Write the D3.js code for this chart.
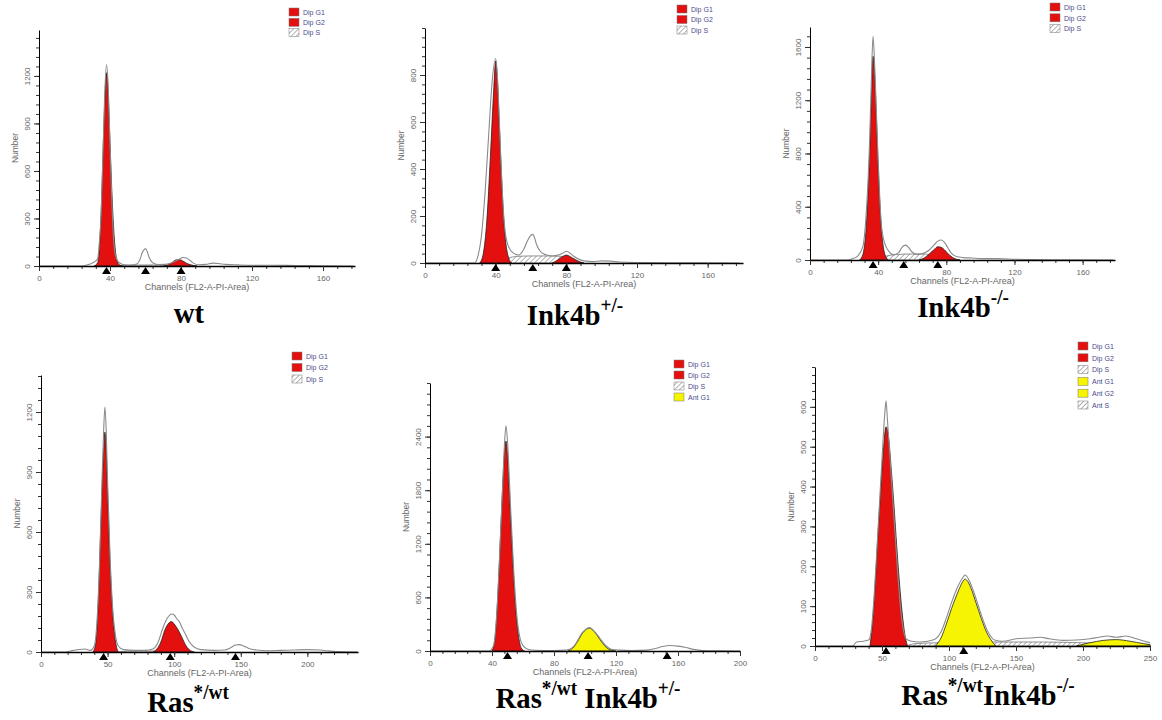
<!DOCTYPE html>
<html>
<head>
<meta charset="utf-8">
<script src="https://cdn.jsdelivr.net/npm/d3@7"></script>
<style>
  body { margin: 0; background: #fff; }
  svg { display: block; }
</style>
</head>
<body>
<div id="chart"></div>
<script>
// ---- data: [channel, count] ----
// wt
const wtRaw = [[0,0],[24,0],[27,6],[30,18],[33,45],[34,150],[35,330],[36,700],[37,1080],[38,1270],[39,1130],[40,760],[41,420],[42,170],[43,70],[45,22],[48,8],[52,6],[55,12],[57,45],[58,80],[59,100],[60,110],[61,90],[62,55],[64,20],[67,9],[71,10],[74,18],[77,32],[79,42],[81,54],[83,50],[85,36],[87,18],[90,8],[94,10],[98,18],[101,16],[105,10],[112,7],[120,5],[132,5],[145,3],[160,2],[177,0]];
const wtG1 = [[31,0],[33,20],[34,110],[35,330],[36,680],[37,1020],[38,1220],[39,1080],[40,780],[41,480],[42,250],[43,100],[44,35],[45,10],[47,0]];
const wtG2 = [[70,0],[73,8],[75,22],[77,38],[79,40],[81,32],[83,18],[86,6],[89,0]];
const wtS = [[44,0],[48,4],[55,6],[65,7],[72,6],[78,3],[84,0]];
const wtMarkers = [38, 60, 80];

// Ink4b+/-
const hetRaw = [[0,0],[28,0],[30,30],[32,120],[34,300],[36,540],[38,770],[40,870],[41,790],[42,620],[43,430],[44,270],[45,160],[47,75],[50,42],[53,34],[56,60],[58,95],[60,118],[61,122],[62,108],[63,82],[65,52],[68,36],[72,30],[76,35],[78,42],[80,50],[82,42],[84,30],[86,20],[90,9],[95,6],[100,9],[105,8],[110,4],[120,2],[150,1],[178,0]];
const hetG1 = [[31,0],[33,40],[35,180],[37,450],[39,750],[40,860],[41,780],[42,600],[43,420],[44,260],[45,140],[46,70],[47,30],[49,0]];
const hetG2 = [[72,0],[75,12],[78,28],[80,34],[82,28],[85,14],[88,3],[90,0]];
const hetS = [[44,0],[47,20],[52,28],[60,30],[70,30],[78,28],[84,18],[88,5],[90,0]];
const hetMarkers = [40, 61, 80];

// Ink4b-/-
const koRaw = [[0,0],[22,0],[25,10],[28,30],[31,100],[33,350],[35,900],[36,1350],[37,1680],[38,1450],[39,1100],[40,750],[41,450],[42,250],[44,120],[46,70],[49,40],[52,55],[54,95],[56,112],[58,92],[60,58],[63,42],[66,48],[70,75],[73,115],[75,142],[77,150],[79,130],[81,90],[83,50],[86,26],[90,18],[95,15],[100,10],[110,10],[120,6],[130,3],[150,2],[178,0]];
const koG1 = [[29,0],[31,40],[33,250],[35,800],[36,1200],[37,1530],[38,1380],[39,1050],[40,700],[41,420],[42,220],[43,100],[44,40],[46,0]];
const koG2 = [[64,0],[67,15],[70,45],[73,80],[75,100],[77,95],[79,75],[82,35],[85,10],[88,0]];
const koS = [[42,0],[45,30],[50,40],[58,45],[65,45],[72,40],[80,25],[86,0]];
const koMarkers = [37, 55, 75];

// Ras*/wt
const rasRaw = [[0,0],[18,0],[22,5],[28,12],[33,15],[37,8],[40,30],[42,150],[44,450],[46,900],[47,1100],[48,1225],[49,1100],[50,850],[52,450],[54,200],[56,80],[58,30],[62,12],[70,8],[78,8],[84,15],[88,50],[91,110],[94,160],[96,180],[98,190],[100,185],[102,165],[104,150],[106,120],[108,95],[111,55],[115,25],[120,12],[130,8],[138,10],[142,20],[146,35],[149,37],[152,30],[156,18],[162,10],[170,6],[180,8],[190,10],[200,12],[210,10],[215,6],[222,2],[238,0]];
const rasG1 = [[39,0],[41,40],[43,250],[45,650],[47,1000],[48,1100],[49,1000],[50,800],[52,420],[54,180],[56,50],[58,0]];
const rasG2 = [[84,0],[87,15],[90,50],[93,110],[96,145],[98,152],[100,140],[103,110],[106,70],[109,30],[112,8],[115,0]];
const rasS = [[58,0],[65,5],[75,6],[85,5],[90,0]];
const rasMarkers = [47, 97, 146];

// Ras*/wt Ink4b+/-
const rasHetRaw = [[0,0],[38,0],[41,60],[43,400],[45,1100],[47,1900],[48,2300],[49,2520],[50,2350],[51,2000],[52,1600],[54,900],[56,400],[58,150],[60,60],[63,20],[68,8],[80,5],[88,10],[92,40],[95,110],[98,200],[101,250],[103,262],[105,240],[108,180],[111,110],[114,50],[117,20],[122,10],[130,5],[140,10],[146,30],[150,50],[155,62],[160,55],[165,40],[170,18],[176,5],[185,2],[200,0]];
const rasHetG1 = [[40,0],[42,150],[44,700],[46,1500],[48,2200],[49,2350],[50,2200],[51,1850],[53,1150],[55,550],[57,180],[59,30],[61,0]];
const rasHetAntG1 = [[89,0],[92,30],[95,100],[98,190],[101,245],[103,255],[105,235],[108,170],[111,95],[114,35],[117,8],[120,0]];
const rasHetMarkers = [50, 102, 153];

// Ras*/wt Ink4b-/-
const rasKoRaw = [[0,0],[28,0],[31,10],[36,12],[40,15],[42,40],[44,120],[46,230],[48,350],[50,470],[52,580],[53,615],[54,570],[56,470],[58,370],[60,270],[62,170],[64,90],[66,40],[68,18],[72,12],[78,10],[84,12],[90,18],[94,35],[98,70],[102,110],[106,145],[110,170],[112,178],[115,165],[118,140],[122,100],[126,60],[130,30],[134,15],[140,12],[150,18],[160,20],[168,22],[175,18],[185,14],[195,15],[205,18],[212,22],[218,25],[225,22],[232,25],[240,18],[246,12],[250,8]];
const rasKoG1 = [[41,0],[43,60],[45,160],[47,280],[49,390],[51,490],[53,550],[55,520],[57,440],[59,350],[61,250],[63,160],[65,85],[67,30],[69,0]];
const rasKoAntG1 = [[90,0],[94,20],[98,55],[102,95],[106,130],[110,160],[112,168],[114,162],[117,140],[120,110],[124,70],[128,35],[132,12],[135,0]];
const rasKoAntG2 = [[195,0],[205,8],[215,14],[225,16],[235,12],[245,6],[250,3]];
const rasKoS = [[68,0],[75,6],[90,8],[140,10],[170,10],[200,8],[230,6],[250,4]];
const rasKoMarkers = [53, 111];

// tick labels
const xTicks180 = [0, 40, 80, 120, 160];
const xTicks200 = [0, 40, 80, 120, 160, 200];
const xTicksRas = [0, 50, 100, 150, 200];
const xTicks250 = [0, 50, 100, 150, 200, 250];
const yTicksWt = [0, 300, 600, 900, 1200];
const yTicksHet = [0, 200, 400, 600, 800];
const yTicksKo = [0, 400, 800, 1200, 1600];
const yTicksRas = [0, 300, 600, 900, 1200];
const yTicksRasHet = [0, 600, 1200, 1800, 2400];
const yTicksRasKo = [0, 100, 200, 300, 400, 500, 600];

// legends
const legendDip = ["Dip G1", "Dip G2", "Dip S"];
const legendDipAnt1 = ["Dip G1", "Dip G2", "Dip S", "Ant G1"];
const legendDipAnt = ["Dip G1", "Dip G2", "Dip S", "Ant G1", "Ant G2", "Ant S"];

// titles: [text, superscript?]
const titleWt = [["wt", false]];
const titleHet = [["Ink4b", false], ["+/-", true]];
const titleKo = [["Ink4b", false], ["-/-", true]];
const titleRas = [["Ras", false], ["*/wt", true]];
const titleRasHet = [["Ras", false], ["*/wt", true], [" Ink4b", false], ["+/-", true]];
const titleRasKo = [["Ras", false], ["*/wt", true], ["Ink4b", false], ["-/-", true]];

const RED = "#e3100f", YELLOW = "#f6f400";

const panels = [
  { raw: wtRaw, fills: [[wtS, "hatch"], [wtG1, "red"], [wtG2, "red"]], markers: wtMarkers,
    xTicks: xTicks180, yTicks: yTicksWt, legend: legendDip, title: titleWt,
    box: { left: 39, right: 355, bottom: 266, top: 30 }, xMax: 178, yMax: 1490,
    leg: [289, 8, 10.3], titlePos: [189, 323] },
  { raw: hetRaw, fills: [[hetS, "hatch"], [hetG1, "red"], [hetG2, "red"]], markers: hetMarkers,
    xTicks: xTicks180, yTicks: yTicksHet, legend: legendDip, title: titleHet,
    box: { left: 425, right: 743, bottom: 263, top: 28 }, xMax: 180, yMax: 1000,
    leg: [677, 5, 10.5], titlePos: [575, 325] },
  { raw: koRaw, fills: [[koS, "hatch"], [koG1, "red"], [koG2, "red"]], markers: koMarkers,
    xTicks: xTicks180, yTicks: yTicksKo, legend: legendDip, title: titleKo,
    box: { left: 810, right: 1115, bottom: 260, top: 27 }, xMax: 179, yMax: 1750,
    leg: [1050, 3, 10.8], titlePos: [963, 317] },
  { raw: rasRaw, fills: [[rasS, "hatch"], [rasG1, "red"], [rasG2, "red"]], markers: rasMarkers,
    xTicks: xTicksRas, yTicks: yTicksRas, legend: legendDip, title: titleRas,
    box: { left: 41, right: 358, bottom: 652, top: 375 }, xMax: 238, yMax: 1385,
    leg: [292, 352, 11.5], titlePos: [188, 712] },
  { raw: rasHetRaw, fills: [[rasHetG1, "red"], [rasHetAntG1, "yellow"]], markers: rasHetMarkers,
    xTicks: xTicks200, yTicks: yTicksRasHet, legend: legendDipAnt1, title: titleRasHet,
    box: { left: 430, right: 740, bottom: 651, top: 383 }, xMax: 200, yMax: 3000,
    leg: [674, 360, 11], titlePos: [588, 708] },
  { raw: rasKoRaw, fills: [[rasKoS, "hatch"], [rasKoG1, "red"], [rasKoAntG1, "yellow"], [rasKoAntG2, "yellow"]], markers: rasKoMarkers,
    xTicks: xTicks250, yTicks: yTicksRasKo, legend: legendDipAnt, title: titleRasKo,
    box: { left: 815, right: 1150, bottom: 646, top: 367 }, xMax: 250, yMax: 700,
    leg: [1078, 342, 11.8], titlePos: [988, 705] }
];

const svg = d3.select("#chart").append("svg")
  .attr("width", 1162).attr("height", 720)
  .style("font-family", "'Liberation Sans', Arial, sans-serif");

svg.append("rect").attr("width", 1162).attr("height", 720).attr("fill", "#fff");

// hatch pattern for S phase
const defs = svg.append("defs");
const pat = defs.append("pattern").attr("id", "hatch").attr("patternUnits", "userSpaceOnUse")
  .attr("width", 3.5).attr("height", 3.5).attr("patternTransform", "rotate(45)");
pat.append("rect").attr("width", 3.5).attr("height", 3.5).attr("fill", "#fff");
pat.append("line").attr("x1", 0).attr("y1", 0).attr("x2", 0).attr("y2", 3.5)
  .attr("stroke", "#666").attr("stroke-width", 1);

function fillColor(kind) {
  if (kind === "red") return RED;
  if (kind === "yellow") return YELLOW;
  return "url(#hatch)";
}

function legendKind(name) {
  if (name.endsWith("S")) return "hatch";
  return name.startsWith("Ant") ? "yellow" : "red";
}

panels.forEach(p => {
  const { left, right, bottom, top } = p.box;
  const x = d3.scaleLinear().domain([0, p.xMax]).range([left, right]);
  const y = d3.scaleLinear().domain([0, p.yMax]).range([bottom, top]);
  const g = svg.append("g");

  // fitted components
  const area = d3.area().curve(d3.curveMonotoneX)
    .x(d => x(d[0])).y0(y(0)).y1(d => y(d[1]));
  p.fills.forEach(([data, kind]) => {
    g.append("path").attr("d", area(data))
      .attr("fill", fillColor(kind))
      .attr("stroke", kind === "hatch" ? "#777" : "#222")
      .attr("stroke-width", 0.8);
  });

  // raw histogram outline
  const line = d3.line().curve(d3.curveMonotoneX).x(d => x(d[0])).y(d => y(d[1]));
  g.append("path").attr("d", line(p.raw))
    .attr("fill", "none").attr("stroke", "#8a8a8a").attr("stroke-width", 1.1);

  // axes: minor ticks then major ticks
  const xStep = p.xTicks[1] - p.xTicks[0];
  const yStep = p.yTicks[1] - p.yTicks[0];
  const xMinor = d3.range(0, p.xMax + 0.01, xStep / 5);
  const yMinor = d3.range(0, p.yMax + 0.01, yStep / 5);
  const fmt = d3.format("d");

  const axX = g.append("g").attr("transform", `translate(0,${bottom})`);
  axX.append("g").call(d3.axisBottom(x).tickValues(xMinor).tickSize(3).tickSizeOuter(0).tickFormat(""))
    .call(s => s.select(".domain").remove());
  axX.append("g").call(d3.axisBottom(x).tickValues(p.xTicks).tickSize(5).tickSizeOuter(0).tickPadding(4).tickFormat(fmt))
    .call(s => s.select(".domain").attr("stroke-width", 1.4))
    .call(s => s.selectAll("text").attr("font-size", 8).attr("fill", "#666").style("font-family", "'Liberation Sans', Arial, sans-serif"));

  const axY = g.append("g").attr("transform", `translate(${left},0)`);
  axY.append("g").call(d3.axisLeft(y).tickValues(yMinor).tickSize(3).tickSizeOuter(0).tickFormat(""))
    .call(s => s.select(".domain").remove());
  axY.append("g").call(d3.axisLeft(y).tickValues(p.yTicks).tickSize(5).tickSizeOuter(0).tickPadding(4).tickFormat(fmt))
    .call(s => s.select(".domain").attr("stroke-width", 1))
    .call(s => s.selectAll("text")
      .attr("transform", "rotate(-90)").attr("x", 0).attr("y", -9).attr("dy", 0)
      .style("text-anchor", "middle").attr("font-size", 8).attr("fill", "#666")
      .style("font-family", "'Liberation Sans', Arial, sans-serif"));
  axX.selectAll("line").attr("stroke", "#333");
  axY.selectAll("line").attr("stroke", "#333");

  // axis labels
  g.append("text").attr("x", (left + right) / 2).attr("y", bottom + 24)
    .attr("text-anchor", "middle").attr("font-size", 9).attr("fill", "#666")
    .text("Channels (FL2-A-PI-Area)");
  g.append("text").attr("transform", `translate(${left - 21},${(top + bottom) / 2}) rotate(-90)`)
    .attr("text-anchor", "middle").attr("font-size", 8.5).attr("fill", "#666")
    .text("Number");

  // peak markers
  g.selectAll(".marker").data(p.markers).enter().append("path")
    .attr("d", d => `M${x(d)},${bottom + 1}L${x(d) - 4.5},${bottom + 8}L${x(d) + 4.5},${bottom + 8}Z`)
    .attr("fill", "#000");

  // legend
  const [lx, ly, ls] = p.leg;
  const lg = g.append("g").attr("transform", `translate(${lx},${ly})`);
  p.legend.forEach((name, i) => {
    lg.append("rect").attr("x", 0).attr("y", i * ls).attr("width", 10).attr("height", 8)
      .attr("fill", fillColor(legendKind(name))).attr("stroke", "#777").attr("stroke-width", 0.5);
    lg.append("text").attr("x", 14).attr("y", i * ls + 6.8).attr("font-size", 7)
      .attr("fill", "#4a4a8c").text(name);
  });

  // title
  const t = svg.append("text")
    .attr("transform", `translate(${p.titlePos[0]},${p.titlePos[1]}) scale(0.96,1)`)
    .attr("text-anchor", "middle")
    .style("font-family", "'Liberation Serif', 'Times New Roman', serif")
    .attr("font-weight", "bold").attr("font-size", 30).attr("fill", "#000");
  let raised = false;
  p.title.forEach(([txt, sup]) => {
    const ts = t.append("tspan").text(txt);
    if (sup) { ts.attr("font-size", 20).attr("dy", raised ? 0 : -13); raised = true; }
    else { ts.attr("dy", raised ? 13 : 0); raised = false; }
  });
});
</script>
</body>
</html>
